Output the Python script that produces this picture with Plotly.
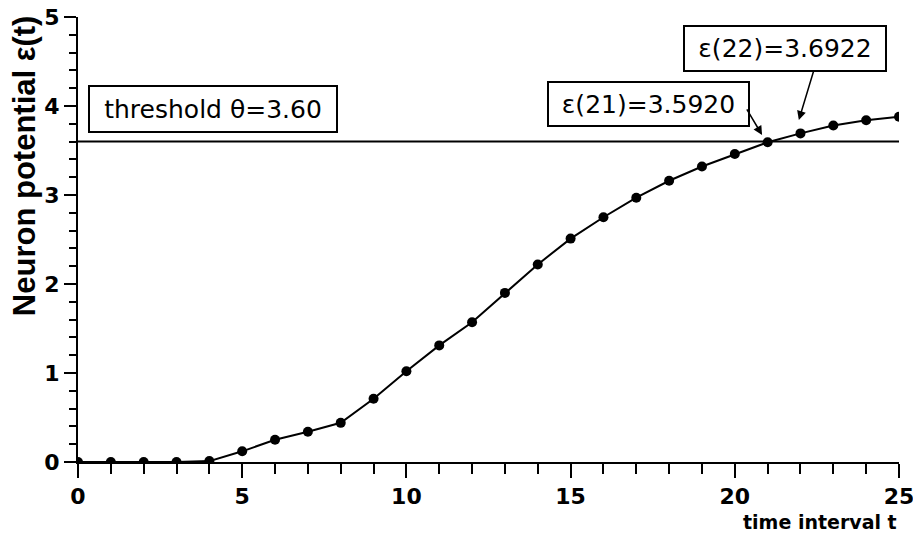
import plotly.graph_objects as go

t_values = list(range(0, 26))
potential = [0.0, 0.0, 0.0, 0.0, 0.01, 0.12, 0.25, 0.34, 0.44, 0.71, 1.02, 1.31,
             1.57, 1.90, 2.22, 2.51, 2.75, 2.97, 3.16, 3.32, 3.46, 3.592, 3.6922,
             3.78, 3.84, 3.88]
threshold = 3.60
x_ticks = [0, 5, 10, 15, 20, 25]
y_ticks = [0, 1, 2, 3, 4, 5]

tick_font = dict(family="DejaVu Sans", size=22, color="black", weight="bold")
box_font = dict(family="DejaVu Sans", size=25, color="black")

fig = go.Figure()
fig.add_trace(go.Scatter(
    x=t_values, y=potential, mode="lines+markers",
    line=dict(color="black", width=2),
    marker=dict(color="black", size=10, symbol="circle"),
    showlegend=False,
))

fig.add_shape(type="line", xref="x", yref="y", x0=0, x1=25, y0=threshold, y1=threshold,
              line=dict(color="black", width=2))

# boxes
fig.add_annotation(x=4.11, y=3.97, xref="x", yref="y", text="threshold θ=3.60",
                   showarrow=False, font=box_font, bordercolor="black", borderwidth=2,
                   width=244, height=42, borderpad=1, bgcolor="white")
fig.add_annotation(x=17.37, y=4.02, xref="x", yref="y", text="ε(21)=3.5920",
                   showarrow=False, font=box_font, bordercolor="black", borderwidth=2,
                   width=197, height=40, borderpad=1, bgcolor="white")
fig.add_annotation(x=21.53, y=4.646, xref="x", yref="y", text="ε(22)=3.6922",
                   showarrow=False, font=box_font, bordercolor="black", borderwidth=2,
                   width=198, height=41, borderpad=1, bgcolor="white")
# arrows
fig.add_annotation(x=20.83, y=3.674, ax=20.34, ay=3.978, xref="x", yref="y",
                   axref="x", ayref="y", text="", showarrow=True, arrowhead=2,
                   arrowsize=1.2, arrowwidth=1.5, arrowcolor="black")
fig.add_annotation(x=21.95, y=3.843, ax=22.41, ay=4.404, xref="x", yref="y",
                   axref="x", ayref="y", text="", showarrow=True, arrowhead=2,
                   arrowsize=1.2, arrowwidth=1.5, arrowcolor="black")

# axis titles
fig.add_annotation(x=1.0, y=-0.135, xref="paper", yref="paper", xanchor="right",
                   yanchor="middle", text="time interval t", showarrow=False,
                   font=dict(family="DejaVu Sans", size=19, color="black", weight="bold"))
fig.add_annotation(x=-0.0658, y=0.667, xref="paper", yref="paper", xanchor="center",
                   yanchor="middle", text="Neuron potential ε(t)", showarrow=False,
                   textangle=-90,
                   font=dict(family="Liberation Sans", size=31, color="black", weight="bold"))

fig.update_xaxes(range=[0, 25], tickvals=x_ticks, ticktext=[str(v) for v in x_ticks],
                 showline=True, linecolor="black", linewidth=2, showgrid=False,
                 zeroline=False, ticks="outside", ticklen=14, tickwidth=2,
                 tickcolor="black", tickfont=tick_font, automargin=False,
                 ticklabeloverflow="allow",
                 minor=dict(dtick=1, tick0=0, ticks="outside", ticklen=10, tickwidth=2,
                            tickcolor="black", showgrid=False))
fig.update_yaxes(range=[0, 5], tickvals=y_ticks, ticktext=[str(v) for v in y_ticks],
                 showline=True, linecolor="black", linewidth=2, showgrid=False,
                 zeroline=False, ticks="outside", ticklen=12, tickwidth=2,
                 tickcolor="black", tickfont=tick_font, automargin=False,
                 ticklabeloverflow="allow",
                 minor=dict(dtick=0.2, tick0=0, ticks="outside", ticklen=7, tickwidth=2,
                            tickcolor="black", showgrid=False))

fig.update_layout(width=913, height=541, margin=dict(l=78, r=14, t=17, b=79),
                  plot_bgcolor="white", paper_bgcolor="white")

fig.write_html("out.html", config={"displayModeBar": False},
               post_script="document.body.style.margin='0';")
